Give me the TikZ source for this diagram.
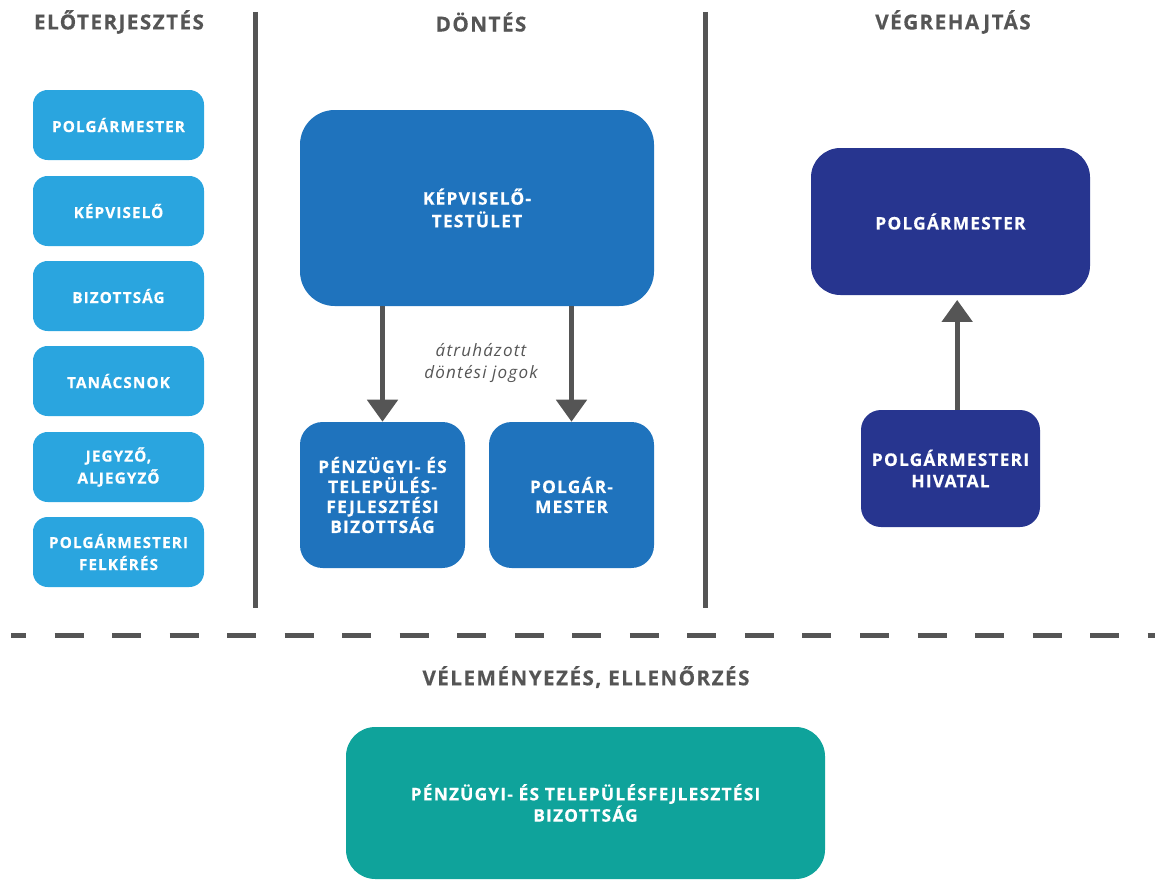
\documentclass[tikz,border=0pt]{standalone}
\usepackage{fontspec}
\setmainfont{Open Sans}
\newfontfamily\ritkitott{Open Sans}[LetterSpace=7, BoldFeatures={FakeBold=0.4}]
\usetikzlibrary{arrows.meta,positioning}

\definecolor{vilagoskek}{HTML}{2AA5DF}
\definecolor{kozepkek}{HTML}{1F73BD}
\definecolor{sotetkek}{HTML}{27358F}
\definecolor{turkiz}{HTML}{0FA39B}
\definecolor{szurke}{HTML}{555555}

\begin{document}
\begin{tikzpicture}[x=0.75pt, y=-0.75pt,
  doboz/.style={rectangle, inner sep=0pt, align=center, text=white,
    font=\ritkitott\bfseries\fontsize{13}{16}\selectfont},
  elo/.style={doboz, fill=vilagoskek, rounded corners=11pt,
    minimum width=128.25pt, minimum height=52.5pt,
    font=\ritkitott\bfseries\fontsize{11.5}{16.5}\selectfont},
  dont/.style={doboz, fill=kozepkek},
  vegr/.style={doboz, fill=sotetkek},
  fejlec/.style={text=szurke, font=\ritkitott\bfseries\fontsize{15.5}{17}\selectfont},
  elvalaszto/.style={szurke, line width=3.75pt},
  nyil/.style={->, >={Triangle[width=22.5pt,length=16.5pt]}, szurke, line width=3.75pt}]

\useasboundingbox (0,0) rectangle (1155,881);

% Oszlopcimek
\node[fejlec] (hElo) at (119,22) {ELŐTERJESZTÉS};
\node[fejlec] (hDont) at (481,22) {DÖNTÉS};
\node[fejlec] (hVegr) at (953,22) {VÉGREHAJTÁS};

% Elvalaszto vonalak
\draw[elvalaszto] (255,12) -- (255,608);
\draw[elvalaszto] (705,12) -- (705,608);
\draw[elvalaszto, dash pattern=on 21.75pt off 21.4pt, dash phase=10.5pt] (11,635) -- (1155,635);

% Eloterjesztok
\node[elo] (e1) at (118.5,125) {POLGÁRMESTER};
\node[elo] (e2) at (118.5,211) {KÉPVISELŐ};
\node[elo] (e3) at (118.5,296) {BIZOTTSÁG};
\node[elo] (e4) at (118.5,381) {TANÁCSNOK};
\node[elo] (e5) at (118.5,467) {JEGYZŐ,\\ALJEGYZŐ};
\node[elo] (e6) at (118.5,552) {POLGÁRMESTERI\\FELKÉRÉS};

% Dontes
\node[dont, rounded corners=26pt, minimum width=265.5pt, minimum height=147pt,
  font=\ritkitott\bfseries\fontsize{13}{17}\selectfont] (kt) at (477,208) {KÉPVISELŐ-\\TESTÜLET};
\node[dont, rounded corners=17pt, minimum width=123.75pt, minimum height=109.5pt,
  font=\ritkitott\bfseries\fontsize{13}{15}\selectfont] (pb) at (382.5,495) {PÉNZÜGYI- ÉS\\TELEPÜLÉS-\\FEJLESZTÉSI\\BIZOTTSÁG};
\node[dont, rounded corners=17pt, minimum width=123.75pt, minimum height=109.5pt,
  font=\ritkitott\bfseries\fontsize{13}{15}\selectfont] (pm) at (571.5,495) {POLGÁR-\\MESTER};

\draw[nyil] (pb.north |- kt.south) -- (pb.north);
\draw[nyil] (pm.north |- kt.south) -- (pm.north);
\node[text=szurke, align=center, font=\ritkitott\itshape\fontsize{12.8}{17}\selectfont] (atr) at (481,363) {átruházott\\döntési jogok};

% Vegrehajtas
\node[vegr, rounded corners=22pt, minimum width=209.25pt, minimum height=110.25pt] (vp) at (950.5,221.5) {POLGÁRMESTER};
\node[vegr, rounded corners=15pt, minimum width=134.25pt, minimum height=87.75pt] (hiv) at (950.5,468.5) {POLGÁRMESTERI\\HIVATAL};
\draw[nyil, shorten >=3.5pt] ([xshift=5pt]hiv.north) -- ([xshift=5pt]vp.south);

% Velemenyezes
\node[fejlec] (hVel) at (586,677) {VÉLEMÉNYEZÉS, ELLENŐRZÉS};
\node[doboz, fill=turkiz, rounded corners=22pt, minimum width=359.25pt, minimum height=114pt] (vel) at (585.5,803) {PÉNZÜGYI- ÉS TELEPÜLÉSFEJLESZTÉSI\\BIZOTTSÁG};

\end{tikzpicture}
\end{document}
